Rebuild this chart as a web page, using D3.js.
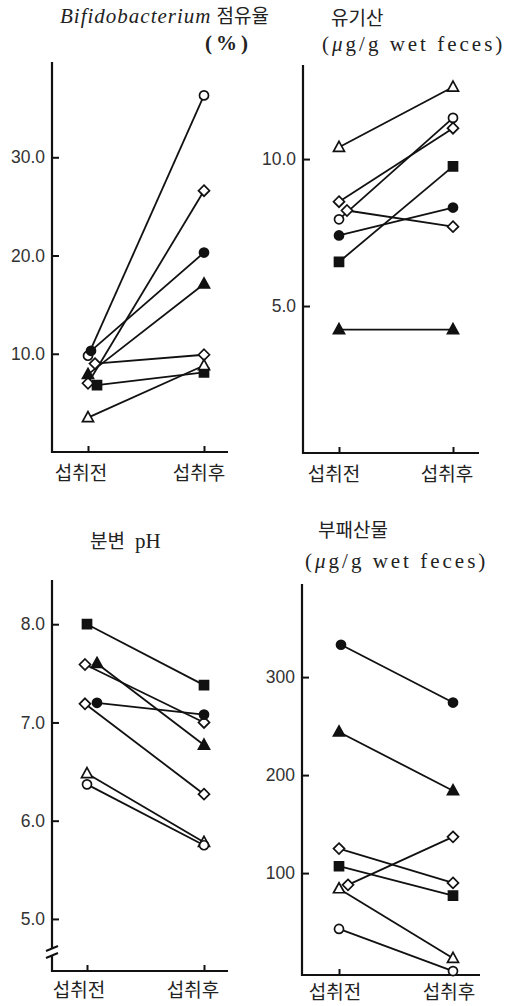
<!DOCTYPE html>
<html>
<head>
<meta charset="utf-8">
<script src="https://cdn.jsdelivr.net/npm/d3@7"></script>
<style>
  body { margin: 0; background: #fff; }
  svg { display: block; }
  .tick text { font-family: "Liberation Sans", Arial, sans-serif; font-size: 17.5px; fill: #333; }
  .cat { font-family: "Noto Sans CJK KR", sans-serif; font-size: 19px; fill: #222; }
  .ttl { font-family: "Liberation Serif", serif; font-size: 21px; fill: #222; }
  .ko { font-family: "Noto Sans CJK KR", sans-serif; font-size: 19px; }
</style>
</head>
<body>
<script>
// categories (x)
var categories = ["섭취전", "섭취후"]

// Bifidobacterium 점유율 (%)
var bifidoMarkers = ["circleOpen", "circleFilled", "diamondOpen", "triangleFilled", "diamondOpen", "squareFilled", "triangleOpen"]
var bifidoBefore = [9.8, 10.3, 7.0, 7.9, 9.0, 6.8, 3.5]
var bifidoAfter  = [36.3, 20.3, 26.6, 17.1, 9.9, 8.1, 8.8]
var bifidoTicks = [10, 20, 30]

// 유기산 (ug/g wet feces)
var acidMarkers = ["triangleOpen", "circleOpen", "diamondOpen", "diamondOpen", "circleFilled", "squareFilled", "triangleFilled"]
var acidBefore = [10.4, 7.95, 8.55, 8.25, 7.4, 6.5, 4.2]
var acidAfter  = [12.45, 11.4, 11.05, 7.7, 8.35, 9.75, 4.2]
var acidTicks = [5, 10]

// 분변 pH
var phMarkers = ["squareFilled", "diamondOpen", "triangleFilled", "circleFilled", "diamondOpen", "triangleOpen", "circleOpen"]
var phBefore = [8.0, 7.59, 7.6, 7.2, 7.19, 6.48, 6.37]
var phAfter  = [7.38, 7.0, 6.77, 7.08, 6.27, 5.78, 5.75]
var phTicks = [5, 6, 7, 8]

// 부패산물 (ug/g wet feces)
var putMarkers = ["circleFilled", "triangleFilled", "diamondOpen", "squareFilled", "diamondOpen", "triangleOpen", "circleOpen"]
var putBefore = [333, 244, 125, 107, 88, 84, 43]
var putAfter  = [274, 184, 90, 77, 137, 13, 0]
var putTicks = [100, 200, 300]

// small horizontal dodge of the "before" markers (px), like the original
var bifidoDodge = [0, 3, 0, 0, 7, 9, 0]
var acidDodge = [0, 0, 0, 8, 0, 0, 0]
var phDodge = [0, -2, 10, 10, -2, 0, 0]
var putDodge = [2, 0, 0, 0, 9, 0, 0]

var svg = d3.select("body").append("svg")
    .attr("width", 507)
    .attr("height", 1006)

// marker shapes
function shapePath(type) {
    if (type.indexOf("circle") == 0) return d3.symbol(d3.symbolCircle, 64)()
    if (type.indexOf("square") == 0) return "M-4.5,-4.5H4.5V4.5H-4.5Z"
    if (type.indexOf("diamond") == 0) return "M0,-5.5L5.5,0L0,5.5L-5.5,0Z"
    return "M0,-6L5.5,4L-5.5,4Z"   // triangle
}

function drawPanel(p) {
    var g = svg.append("g")

    var y = d3.scaleLinear().domain(p.domain).range([p.bottom, p.top])
    var x = d3.scalePoint().domain(categories).range(p.cats)

    // y axis
    var yAxis = g.append("g")
        .attr("transform", "translate(" + p.left + ",0)")
        .call(d3.axisLeft(y).tickValues(p.ticks).tickFormat(p.fmt).tickSizeInner(-7).tickSizeOuter(0).tickPadding(7))
    yAxis.select(".domain").remove()
    yAxis.selectAll(".tick line").attr("stroke", "#111").attr("stroke-width", 2)

    // x axis
    var xAxis = g.append("g")
        .attr("transform", "translate(0," + p.bottom + ")")
        .call(d3.axisBottom(x).tickSize(-6).tickFormat(""))
    xAxis.select(".domain").remove()
    xAxis.selectAll(".tick line").attr("stroke", "#111").attr("stroke-width", 2)

    g.append("line")
        .attr("x1", p.left).attr("x2", p.left)
        .attr("y1", p.top).attr("y2", p.bottom + 1)
        .attr("stroke", "#111").attr("stroke-width", 2.2)
    g.append("line")
        .attr("x1", p.left - 1).attr("x2", p.right)
        .attr("y1", p.bottom).attr("y2", p.bottom)
        .attr("stroke", "#111").attr("stroke-width", 2.2)

    g.selectAll(".cat")
        .data(categories)
        .enter().append("text")
        .attr("class", "cat")
        .attr("x", function(d, i) { return x(d) + p.labelDx[i] })
        .attr("y", p.bottom + p.labelDy)
        .attr("text-anchor", "middle")
        .text(function(d) { return d })

    var rows = p.before.map(function(b, i) {
        return { m: p.markers[i], b: b, a: p.after[i], dx: p.dodge[i] }
    })

    // connecting lines
    g.selectAll(".conn")
        .data(rows)
        .enter().append("line")
        .attr("x1", function(d) { return x(categories[0]) + d.dx })
        .attr("y1", function(d) { return y(d.b) })
        .attr("x2", function(d) { return x(categories[1]) })
        .attr("y2", function(d) { return y(d.a) })
        .attr("stroke", "#111")
        .attr("stroke-width", 1.8)

    // markers
    rows.forEach(function(d) {
        var open = d.m.indexOf("Open") > 0
        ;[[x(categories[0]) + d.dx, y(d.b)], [x(categories[1]), y(d.a)]].forEach(function(pt) {
            g.append("path")
                .attr("d", shapePath(d.m))
                .attr("transform", "translate(" + pt[0] + "," + pt[1] + ")")
                .attr("fill", open ? "#fff" : "#111")
                .attr("stroke", "#111")
                .attr("stroke-width", 1.7)
        })
    })
    return g
}

var fmt1 = d3.format(".1f")
var fmt0 = d3.format("d")

drawPanel({ left: 52, right: 228, top: 62, bottom: 452, cats: [88, 204], domain: [0, 39.7], labelDx: [-7, -5], labelDy: 28,
    ticks: bifidoTicks, fmt: fmt1, markers: bifidoMarkers, before: bifidoBefore, after: bifidoAfter, dodge: bifidoDodge })
drawPanel({ left: 303, right: 479, top: 65, bottom: 453, cats: [339, 453], domain: [0, 13.2], labelDx: [-5, -6], labelDy: 28,
    ticks: acidTicks, fmt: fmt1, markers: acidMarkers, before: acidBefore, after: acidAfter, dodge: acidDodge })
var ph = drawPanel({ left: 52, right: 228, top: 580, bottom: 971, cats: [87, 204], domain: [4.47, 8.45], labelDx: [-8, -11], labelDy: 26,
    ticks: phTicks, fmt: fmt1, markers: phMarkers, before: phBefore, after: phAfter, dodge: phDodge })
drawPanel({ left: 302, right: 480, top: 584, bottom: 975, cats: [339, 453], domain: [-4, 395], labelDx: [-4, -4], labelDy: 24,
    ticks: putTicks, fmt: fmt0, markers: putMarkers, before: putBefore, after: putAfter, dodge: putDodge })

// axis break on the pH axis
ph.append("rect").attr("x", 46).attr("y", 949).attr("width", 12).attr("height", 6).attr("fill", "#fff")
ph.append("path").attr("d", "M46,951 L58,946 M46,958 L58,953")
    .attr("stroke", "#111").attr("stroke-width", 2).attr("fill", "none")

// titles
var t1 = svg.append("text").attr("class", "ttl").attr("x", 60).attr("y", 23)
t1.append("tspan").attr("font-style", "italic").attr("letter-spacing", 1).text("Bifidobacterium")
t1.append("tspan").attr("class", "ko").attr("dx", 5).text("점유율")
svg.append("text").attr("class", "ttl").attr("x", 205).attr("y", 50).attr("font-weight", "bold")
    .attr("font-size", 20).attr("letter-spacing", 4).text("(%)")

svg.append("text").attr("class", "ttl ko").attr("x", 331).attr("y", 25).text("유기산")
var t2 = svg.append("text").attr("class", "ttl").attr("x", 322).attr("y", 51)
    .attr("font-size", 22).attr("letter-spacing", 3)
t2.append("tspan").text("(")
t2.append("tspan").attr("font-style", "italic").text("μ")
t2.append("tspan").text("g/g wet feces)")

var t3 = svg.append("text").attr("class", "ttl").attr("x", 90).attr("y", 548)
t3.append("tspan").attr("class", "ko").attr("font-size", 20).text("분변")
t3.append("tspan").attr("dx", 10).attr("font-size", 21).text("pH")

svg.append("text").attr("class", "ttl ko").attr("x", 318).attr("y", 537).attr("font-size", 19.5).text("부패산물")
var t4 = svg.append("text").attr("class", "ttl").attr("x", 305).attr("y", 568)
    .attr("font-size", 22).attr("letter-spacing", 3)
t4.append("tspan").text("(")
t4.append("tspan").attr("font-style", "italic").text("μ")
t4.append("tspan").text("g/g wet feces)")
</script>
</body>
</html>
